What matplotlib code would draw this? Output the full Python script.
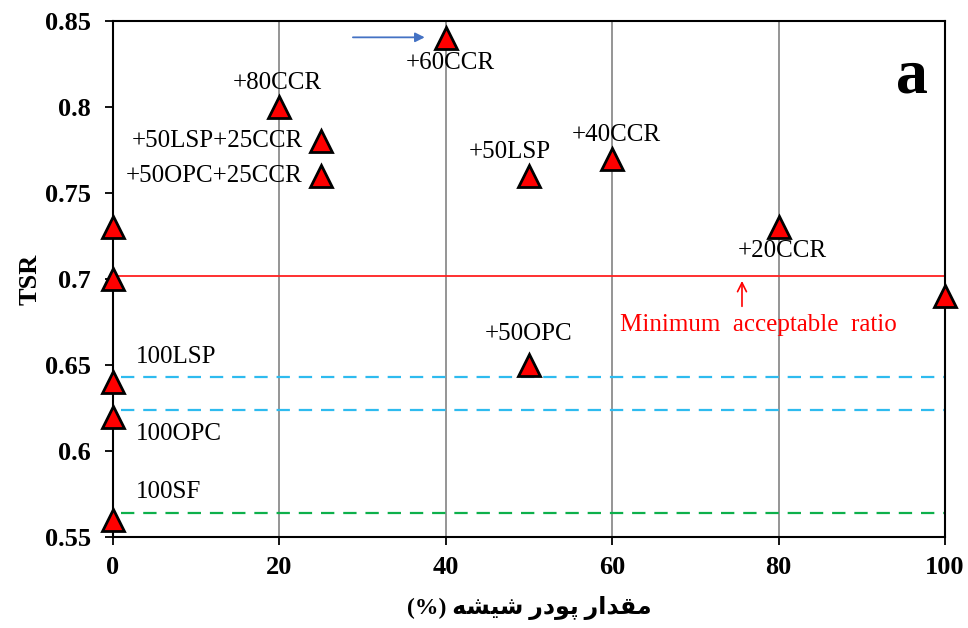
import matplotlib
matplotlib.use('Agg')
import matplotlib.pyplot as plt

plt.rcParams['font.family'] = ['Liberation Serif', 'DejaVu Sans']

# data points (glass powder %, TSR)
glass = [0, 0, 0, 0, 0, 20, 25, 25, 40, 50, 50, 60, 80, 100]
tsr = [0.73, 0.70, 0.64, 0.62, 0.56, 0.80, 0.78, 0.76, 0.84, 0.76, 0.65, 0.77, 0.73, 0.69]

# point labels: text, x, y, alignment
labels = [
    ('+80CCR', 19.8, 0.814, 'center'),
    ('+50LSP+25CCR', 22.8, 0.780, 'right'),
    ('+50OPC+25CCR', 22.8, 0.760, 'right'),
    ('+60CCR', 40.5, 0.8256, 'center'),
    ('+50LSP', 47.7, 0.7738, 'center'),
    ('+40CCR', 60.5, 0.7837, 'center'),
    ('+20CCR', 80.5, 0.716, 'center'),
    ('+50OPC', 49.9, 0.668, 'center'),
]

# reference lines
min_ratio = 0.702
ref_names = ['100LSP', '100OPC', '100SF']
ref_values = [0.643, 0.624, 0.564]
ref_colors = ['#2EBBEF', '#2EBBEF', '#0DB04B']
ref_label_y = [0.6547, 0.610, 0.576]

yticks = [0.55, 0.6, 0.65, 0.7, 0.75, 0.8, 0.85]
ytick_labels = ['0.55', '0.6', '0.65', '0.7', '0.75', '0.8', '0.85']
xticks = [0, 20, 40, 60, 80, 100]

# Persian x label, shaped by hand (presentation forms, visual order)
xlabel = '(%) ' + '\uFEEA\uFEB8\uFEF4\uFEB7' + ' ' + '\uFEAD\uFEA9\uFEEE\uFB58' + ' ' + '\uFEAD\uFE8D\uFEAA\uFED8\uFEE3'

fig = plt.figure(figsize=(9.68, 6.28), dpi=100)
ax = fig.add_axes([113/968, 1 - 537/628, 832/968, 516/628])

ax.set_xlim(0, 100)
ax.set_ylim(0.55, 0.85)

for x in [20, 40, 60, 80]:
    ax.axvline(x, color='#8C8C8C', lw=1.3, zorder=1)

ax.hlines(min_ratio, 0, 100, color='#FF2020', lw=1.3, zorder=2)
for v, c in zip(ref_values, ref_colors):
    ax.hlines(v, 1, 100, color=c, lw=1.6, linestyles=(0, (6, 4)), zorder=2)
for name, ly in zip(ref_names, ref_label_y):
    ax.text(2.8, ly, name, fontsize=18, ha='left', va='center')

ax.plot(glass, tsr, linestyle='none', marker='^', markersize=16.5,
        markerfacecolor='#FF0000', markeredgecolor='black', markeredgewidth=2,
        clip_on=False, zorder=5)

for txt, x, y, ha in labels:
    ax.text(x, y, txt, fontsize=18, ha=ha, va='center')

ax.annotate('', xy=(37.8, 0.8405), xytext=(28.5, 0.8405),
            arrowprops=dict(arrowstyle='-|>', color='#4472C4', lw=1.3, mutation_scale=14))
ax.annotate('', xy=(75.6, 0.7005), xytext=(75.6, 0.6825),
            arrowprops=dict(arrowstyle='->', color='#FF0000', lw=1.2, mutation_scale=16))
ax.text(77.6, 0.673, 'Minimum  acceptable  ratio', color='#FF0000', fontsize=18,
        ha='center', va='center')

ax.text(96.0, 0.817, 'a', fontsize=46, fontweight='bold', ha='center', va='center')

ax.set_xticks(xticks)
ax.set_xticklabels([str(t) for t in xticks], fontsize=19, fontweight='bold')
ax.set_yticks(yticks)
ax.set_yticklabels(ytick_labels, fontsize=19, fontweight='bold')
ax.tick_params(axis='x', direction='out', length=6, width=1.3, pad=8)
ax.tick_params(axis='y', direction='out', length=6, width=1.3, pad=10)

for s in ax.spines.values():
    s.set_linewidth(1.5)
    s.set_color('black')

ax.set_ylabel('TSR', fontsize=19, fontweight='bold', labelpad=2)
ax.set_xlabel(xlabel, fontsize=17, fontweight='bold', labelpad=12)

fig.savefig('out.png', dpi=100)
